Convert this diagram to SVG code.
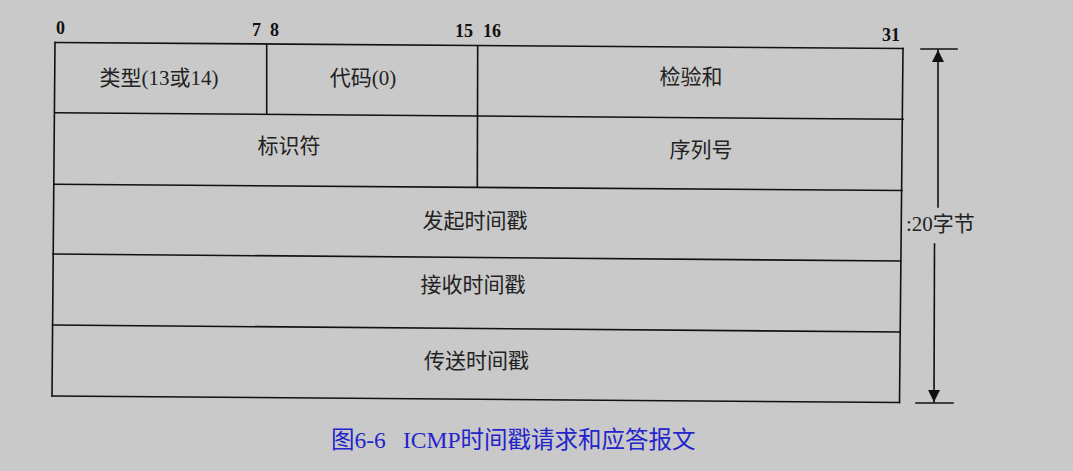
<svg xmlns="http://www.w3.org/2000/svg" width="1073" height="471" viewBox="0 0 1073 471">
<style>
.ln{stroke:#111;stroke-width:1.6;fill:none;stroke-linecap:square}
.bit{font-family:"Liberation Serif","Noto Sans CJK SC",serif;font-weight:bold;font-size:18px;fill:#111}
.lbl{font-family:"Liberation Serif","Noto Sans CJK SC",serif;font-size:21px;fill:#222;text-anchor:middle}
.cap{font-family:"Liberation Serif","Noto Sans CJK SC",serif;font-size:23.5px;fill:#2424cc}
</style>
<defs>
<marker id="ah" viewBox="0 0 12 18" refX="12" refY="9" markerWidth="12" markerHeight="18" markerUnits="userSpaceOnUse" orient="auto">
<path d="M0,3 L12,9 L0,15 Z" fill="#111"/>
</marker>
</defs>
<rect width="1073" height="471" fill="#c9c9c9"/>
<g id="bits">
<text class="bit" x="56" y="34">0</text>
<text class="bit" x="252" y="36">7</text>
<text class="bit" x="270" y="36">8</text>
<text class="bit" x="455" y="37">15</text>
<text class="bit" x="483" y="37">16</text>
<text class="bit" x="882" y="41">31</text>
</g>
<g id="frame">
<path class="ln" d="M55,42.5 L903,48.5"/>
<path class="ln" d="M55,42.5 L52,396"/>
<path class="ln" d="M903,48.5 L899.5,402.5"/>
<path class="ln" d="M52,396 L899.5,402.5"/>
</g>
<g id="row1">
<path class="ln" d="M55,112.7 L903,119.3"/>
<path class="ln" d="M266.7,44 L266.7,113.5"/>
<path class="ln" d="M477.7,46 L477.3,187"/>
</g>
<g id="n-type"><text class="lbl" x="159" y="85">类型(13或14)</text></g>
<g id="n-code"><text class="lbl" x="363" y="85">代码(0)</text></g>
<g id="n-checksum"><text class="lbl" x="691" y="84">检验和</text></g>
<g id="row2">
<path class="ln" d="M54.5,184.3 L902,190.5"/>
</g>
<g id="n-ident"><text class="lbl" x="289" y="153">标识符</text></g>
<g id="n-seq"><text class="lbl" x="701" y="157">序列号</text></g>
<g id="row3">
<path class="ln" d="M53,254 L900.5,261"/>
</g>
<g id="n-orig"><text class="lbl" x="475" y="228">发起时间戳</text></g>
<g id="row4">
<path class="ln" d="M52.5,325 L900,332"/>
</g>
<g id="n-recv"><text class="lbl" x="473" y="292">接收时间戳</text></g>
<g id="n-tx"><text class="lbl" x="476.5" y="368">传送时间戳</text></g>
<g id="connectors">
<path class="ln" d="M921,49 L957,49"/>
<path class="ln" d="M916,403 L953,403"/>
<path class="ln" d="M938,207 L938,50" marker-end="url(#ah)"/>
<path class="ln" d="M934.5,244 L934,402" marker-end="url(#ah)"/>
</g>
<g id="n-size"><text x="906" y="231" style="font-family:'Liberation Serif','Noto Sans CJK SC',serif;font-size:21px;fill:#222">:20字节</text></g>
<g id="caption"><text class="cap" x="331" y="448">图6-6<tspan x="403">ICMP时间戳请求和应答报文</tspan></text></g>
</svg>
